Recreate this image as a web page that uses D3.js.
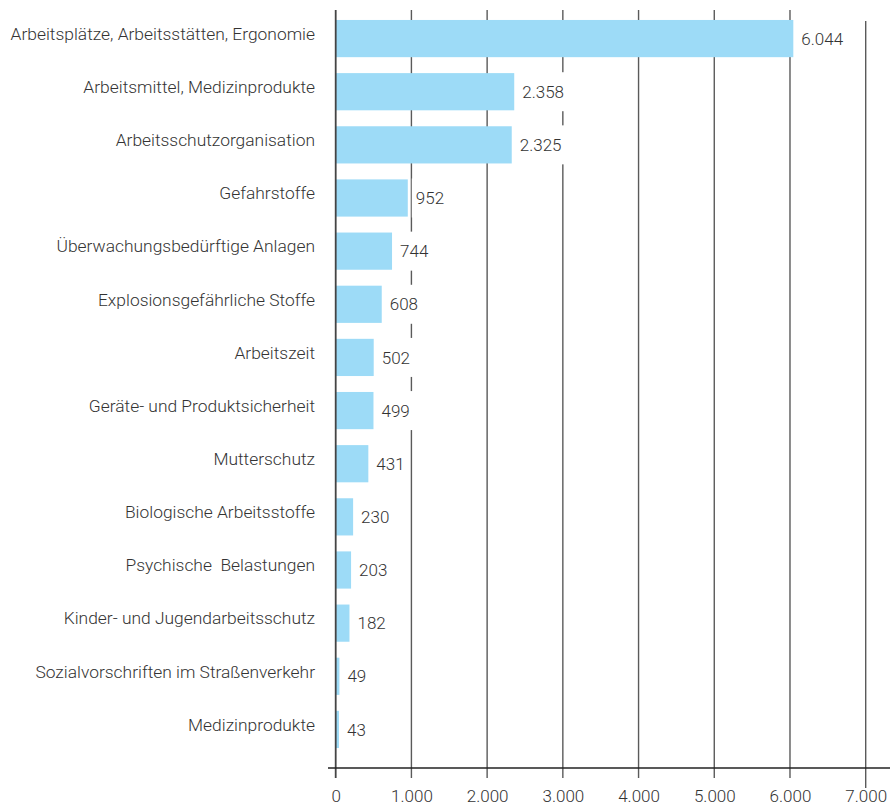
<!DOCTYPE html>
<html>
<head>
<meta charset="utf-8">
<script src="https://cdn.jsdelivr.net/npm/d3@7"></script>
<style>
  html, body { margin: 0; padding: 0; background: #fff; }
  svg { display: block; }
  text { font-family: Roboto, "Noto Sans", sans-serif; font-weight: 300; fill: #333; white-space: pre; }
</style>
</head>
<body>
<svg id="chart" width="890" height="809"></svg>
<script>
// Themenbereiche und Anzahl der Fälle
const categories = [
  "Arbeitsplätze, Arbeitsstätten, Ergonomie",
  "Arbeitsmittel, Medizinprodukte",
  "Arbeitsschutzorganisation",
  "Gefahrstoffe",
  "Überwachungsbedürftige Anlagen",
  "Explosionsgefährliche Stoffe",
  "Arbeitszeit",
  "Geräte- und Produktsicherheit",
  "Mutterschutz",
  "Biologische Arbeitsstoffe",
  "Psychische  Belastungen",
  "Kinder- und Jugendarbeitsschutz",
  "Sozialvorschriften im Straßenverkehr",
  "Medizinprodukte"
];
const values = [6044, 2358, 2325, 952, 744, 608, 502, 499, 431, 230, 203, 182, 49, 43];
const tickValues = [0, 1000, 2000, 3000, 4000, 5000, 6000, 7000];

const svg = d3.select("#chart");
const fmt = v => d3.format(",")(v).replace(/,/g, ".");

const x = d3.scaleLinear().domain([0, 7000]).range([335.7, 865.7]);
const y = d3.scaleBand().domain(categories).range([12, 756]).paddingInner(0.3).paddingOuter(0.15);

const gridTop = 10, axisY = 768;

// vertical grid lines
svg.append("g").selectAll("line")
  .data(tickValues.filter(d => d > 0))
  .join("line")
  .attr("x1", d => x(d)).attr("x2", d => x(d))
  .attr("y1", d => d === 7000 ? 21 : gridTop)
  .attr("y2", d => d === 7000 ? 788 : 778)
  .attr("stroke", "#5a5a5a").attr("stroke-width", 1.4);

// bars
svg.append("g").selectAll("rect")
  .data(values)
  .join("rect")
  .attr("x", x(0))
  .attr("y", (d, i) => y(categories[i]))
  .attr("width", d => x(d) - x(0))
  .attr("height", y.bandwidth())
  .attr("fill", "#9ddbf7");

// zero line
svg.append("line")
  .attr("x1", x(0)).attr("x2", x(0))
  .attr("y1", gridTop).attr("y2", 778)
  .attr("stroke", "#444").attr("stroke-width", 1.8);

// x axis
const axis = d3.axisBottom(x).tickValues(tickValues).tickSize(0).tickPadding(0).tickFormat(fmt);
const ag = svg.append("g").attr("transform", `translate(0,${axisY})`).call(axis);
ag.select(".domain").remove();
ag.selectAll("text").attr("y", 34).attr("dy", 0).style("font-size", "17px").style("font-family", null);
svg.append("line")
  .attr("x1", 328).attr("x2", 890)
  .attr("y1", axisY).attr("y2", axisY)
  .attr("stroke", "#222").attr("stroke-width", 1.5);

// value labels with white backing that cuts through the grid
const lab = svg.append("g").selectAll("g")
  .data(values)
  .join("g")
  .attr("transform", (d, i) => `translate(${x(d) + 8},${y(categories[i]) + y.bandwidth() / 2})`);
lab.append("text")
  .attr("dy", "0.36em")
  .style("font-size", "17px")
  .text(d => fmt(d));
lab.each(function() {
  const t = d3.select(this).select("text");
  const w = t.node().getComputedTextLength();
  d3.select(this).insert("rect", "text")
    .attr("x", -4).attr("y", -19.5)
    .attr("width", w + 8).attr("height", 39)
    .attr("fill", "#fff");
});

// category labels, set slightly above the bar centre
svg.append("g").selectAll("text")
  .data(categories)
  .join("text")
  .attr("x", 315)
  .attr("y", d => y(d) + y.bandwidth() / 2 - 5)
  .attr("dy", "0.36em")
  .attr("text-anchor", "end")
  .style("font-size", "17.4px")
  .text(d => d);
</script>
</body>
</html>
